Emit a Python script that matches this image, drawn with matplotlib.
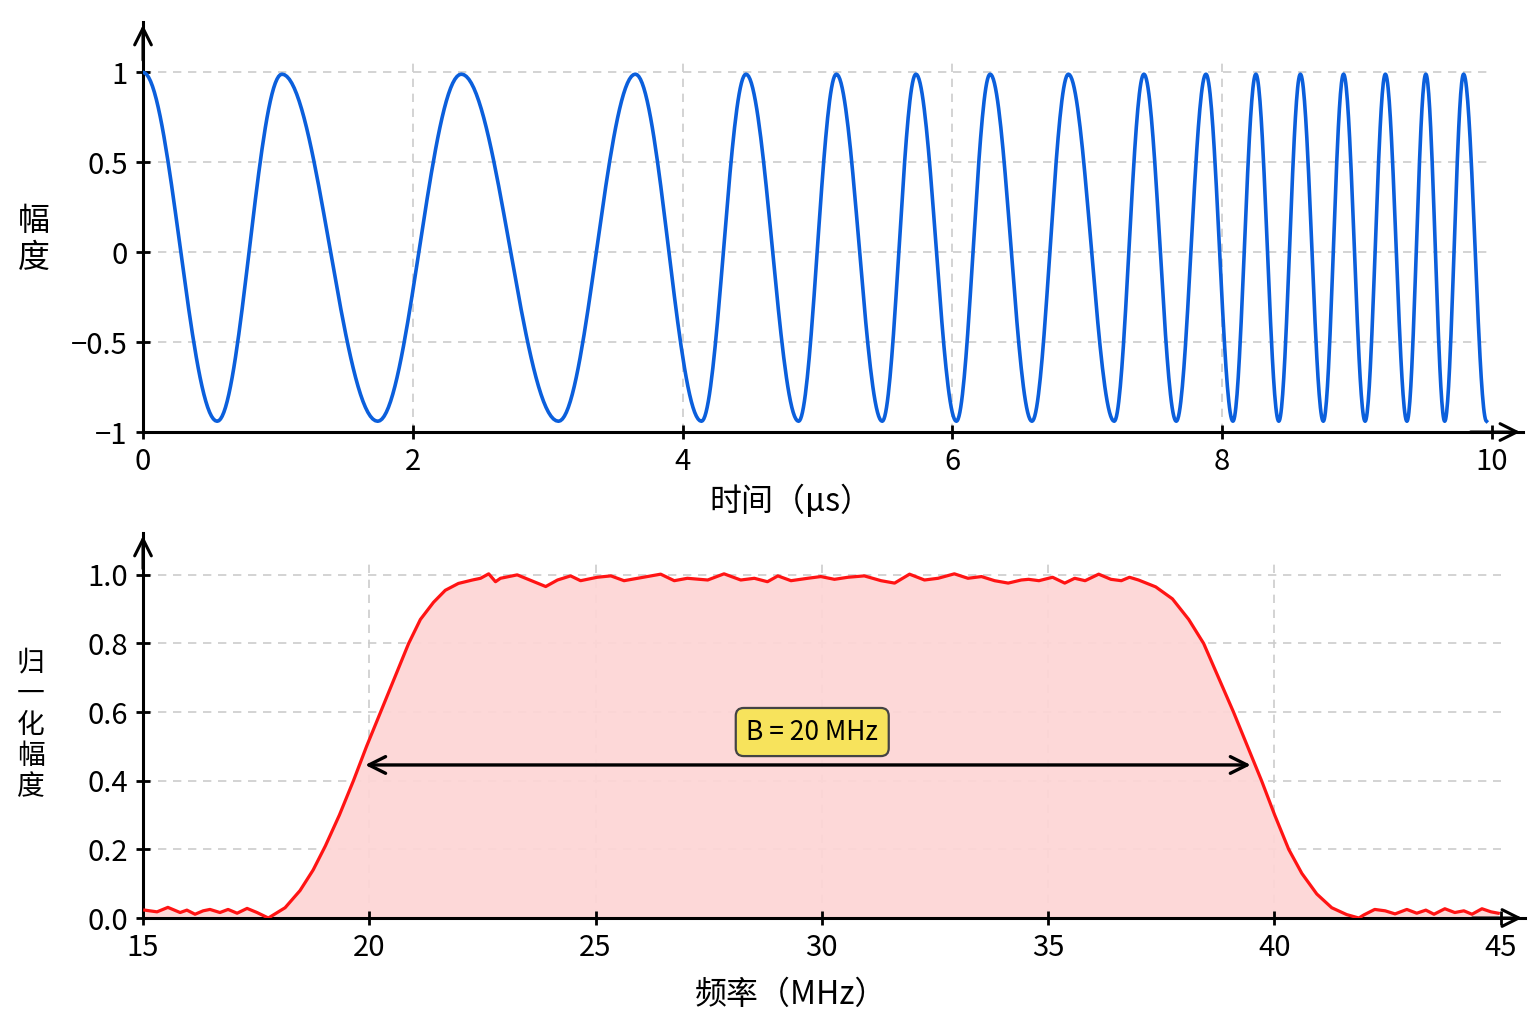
import numpy as np
import matplotlib
matplotlib.use("Agg")
import matplotlib.pyplot as plt

plt.rcParams['font.family'] = ['Noto Sans CJK SC', 'DejaVu Sans']

# --- top panel: chirp waveform, extrema (time in us, amplitude)
extrema_t = [0.0, 0.55, 1.03, 1.74, 2.36, 3.08, 3.65, 4.14, 4.47, 4.86, 5.14, 5.48,
             5.73, 6.03, 6.28, 6.59, 6.86, 7.20, 7.42, 7.66, 7.88, 8.08, 8.25, 8.42,
             8.58, 8.75, 8.90, 9.06, 9.21, 9.37, 9.51, 9.65, 9.79, 9.96]
extrema_v = [1.0 if i % 2 == 0 else -0.94 for i in range(len(extrema_t))]
extrema_v[1:] = [0.99 if v > 0 else v for v in extrema_v[1:]]

time_ticks = [0, 2, 4, 6, 8, 10]
amp_ticks = [-1, -0.5, 0, 0.5, 1]
amp_labels = ['−1', '−0.5', '0', '0.5', '1']

# --- bottom panel: normalised spectrum (MHz, amplitude)
freq_mhz = [15.04, 15.31, 15.55, 15.82, 15.97, 16.15, 16.33, 16.48, 16.70, 16.88,
            17.08, 17.30, 17.52, 17.77,
            18.14, 18.47, 18.76, 19.03, 19.34, 19.65, 19.94, 20.25, 20.56, 20.87,
            21.13, 21.42, 21.68, 21.97, 22.28, 22.46, 22.64, 22.79,
            22.90, 23.27, 23.64, 23.90, 24.16, 24.45, 24.67, 25.04, 25.34, 25.63,
            25.93, 26.44, 26.74, 27.03, 27.48, 27.84, 28.21, 28.51, 28.80, 29.03,
            29.32, 29.69, 29.98, 30.28, 30.58, 30.94, 31.31, 31.61, 31.94, 32.27,
            32.57, 32.93, 33.23, 33.53, 33.82, 34.12, 34.41, 34.57, 34.80, 35.10,
            35.37, 35.59, 35.82, 36.12, 36.39, 36.62, 36.80,
            37.00, 37.38, 37.75, 38.11, 38.44, 38.77, 39.10, 39.41, 39.72, 40.01,
            40.32, 40.61, 40.94, 41.27, 41.60, 41.87,
            41.98, 42.22, 42.45, 42.67, 42.93, 43.15, 43.35, 43.53, 43.77, 43.99,
            44.19, 44.37, 44.59, 44.79, 44.95]
spectrum = [0.023, 0.018, 0.031, 0.016, 0.023, 0.011, 0.021, 0.025, 0.016, 0.025,
            0.014, 0.028, 0.016, 0.0,
            0.03, 0.08, 0.14, 0.21, 0.30, 0.40, 0.50, 0.60, 0.70, 0.80,
            0.87, 0.92, 0.955, 0.975, 0.985, 0.99, 1.003, 0.98,
            0.99, 1.0, 0.98, 0.966, 0.985, 0.997, 0.983, 0.993, 0.997, 0.983,
            0.99, 1.002, 0.983, 0.99, 0.985, 1.003, 0.985, 0.99, 0.98, 0.997,
            0.983, 0.99, 0.995, 0.987, 0.993, 0.997, 0.983, 0.976, 1.002, 0.985,
            0.99, 1.003, 0.99, 0.995, 0.983, 0.976, 0.985, 0.987, 0.983, 0.993,
            0.976, 0.99, 0.983, 1.002, 0.987, 0.983, 0.993,
            0.985, 0.965, 0.93, 0.87, 0.80, 0.70, 0.60, 0.50, 0.40, 0.30,
            0.20, 0.13, 0.07, 0.03, 0.01, 0.0,
            0.009, 0.025, 0.021, 0.012, 0.025, 0.014, 0.023, 0.011, 0.027, 0.016,
            0.021, 0.011, 0.027, 0.018, 0.014]
freq_ticks = [15, 20, 25, 30, 35, 40, 45]
norm_ticks = [0.0, 0.2, 0.4, 0.6, 0.8, 1.0]
band_edges = (19.91, 39.48)
band_label = 'B = 20 MHz'

GRID = dict(color='#cccccc', lw=1.2, linestyles=(0, (5, 4)), zorder=0)
TICK_FS = 21


def style_axes(ax):
    for s in ['top', 'right']:
        ax.spines[s].set_visible(False)
    for s in ['left', 'bottom']:
        ax.spines[s].set_linewidth(2.2)
        ax.spines[s].set_color('black')
    ax.tick_params(direction='inout', length=10, width=2, labelsize=TICK_FS, pad=6)
    # open arrow heads at the axis ends
    ax.annotate('', xy=(1.0, 0), xytext=(0.96, 0), xycoords='axes fraction',
                arrowprops=dict(arrowstyle='->', lw=2.2, color='black', mutation_scale=30))
    ax.annotate('', xy=(0, 1.0), xytext=(0, 0.9), xycoords='axes fraction',
                arrowprops=dict(arrowstyle='->', lw=2.2, color='black', mutation_scale=30))


fig = plt.figure(figsize=(15.36, 10.24), dpi=100)

# top: waveform
ax1 = fig.add_axes([0.0931, 0.5781, 0.8984, 0.4004])
tt, vv = [], []
for i in range(len(extrema_t) - 1):
    s = np.linspace(0, 1, 40)
    t0, t1 = extrema_t[i], extrema_t[i + 1]
    v0, v1 = extrema_v[i], extrema_v[i + 1]
    tt.append(t0 + (t1 - t0) * s)
    vv.append(v0 + (v1 - v0) * (1 - np.cos(np.pi * s)) / 2)
tt = np.concatenate(tt)
vv = np.concatenate(vv)
ax1.hlines([-0.5, 0, 0.5, 1], 0, 10, **GRID)
ax1.vlines([2, 4, 6, 8], -1, 1.05, **GRID)
ax1.plot(tt, vv, color='#0b5fdc', lw=2.6, zorder=3)
ax1.set_xlim(0, 10.23)
ax1.set_ylim(-1, 1.28)
ax1.set_xticks(time_ticks)
ax1.set_yticks(amp_ticks)
ax1.set_yticklabels(amp_labels)
style_axes(ax1)

# bottom: spectrum
ax2 = fig.add_axes([0.0931, 0.1035, 0.8997, 0.376])
ax2.hlines(norm_ticks[1:], 15, 45, **GRID)
ax2.vlines(freq_ticks[1:-1], 0, 1.04, **GRID)
ax2.fill_between(freq_mhz, spectrum, 0, color='#fdd6d6', alpha=0.95, lw=0, zorder=1)
ax2.plot(freq_mhz, spectrum, color='#ff1414', lw=2.3, zorder=3)
ax2.annotate('', xy=(band_edges[0], 0.446), xytext=(band_edges[1], 0.446),
             arrowprops=dict(arrowstyle='<->', lw=2.4, color='black', mutation_scale=30,
                             shrinkA=0, shrinkB=0), zorder=4)
ax2.text(29.79, 0.542, band_label, ha='center', va='center', fontsize=19, zorder=5,
         bbox=dict(boxstyle='round,pad=0.4,rounding_size=0.3', fc='#f7e35c',
                   ec='#444444', lw=1.6))
ax2.set_xlim(15, 45.54)
ax2.set_ylim(0, 1.122)
ax2.set_xticks(freq_ticks)
ax2.set_yticks(norm_ticks)
ax2.set_yticklabels([f'{v:.1f}' for v in norm_ticks])
style_axes(ax2)

# labels
fig.text(0.515, 0.51, '时间（μs）', ha='center', va='center', fontsize=23)
fig.text(0.515, 0.028, '频率（MHz）', ha='center', va='center', fontsize=23)
fig.text(0.022, 0.766, '幅\n度', ha='center', va='center', fontsize=23, linespacing=1.2)
fig.text(0.020, 0.292, '归\n一\n化\n幅\n度', ha='center', va='center', fontsize=20,
         linespacing=1.05)

fig.savefig('out.png', dpi=100, facecolor='white')
